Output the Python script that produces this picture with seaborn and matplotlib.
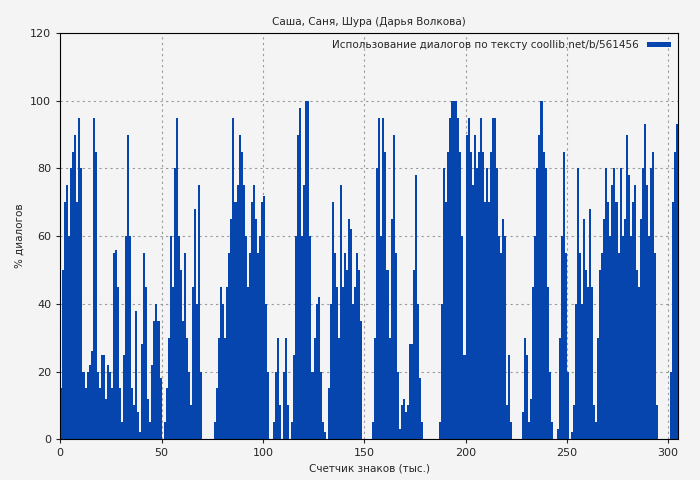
import numpy as np
import pandas as pd
import matplotlib
matplotlib.use("Agg")
import matplotlib.pyplot as plt
import seaborn as sns

values = [15,50,70,75,60,80,85,90,70,95,80,20,15,20,22,26,95,85,20,15,
          25,25,12,22,20,15,55,56,45,15,5,25,60,90,60,15,10,38,8,2,
          28,55,45,12,5,22,35,40,35,18,0,5,15,30,60,45,80,95,60,50,
          35,55,30,20,10,45,68,40,75,20,0,0,0,0,0,0,5,15,30,45,
          40,30,45,55,65,95,70,75,90,85,75,60,45,55,70,75,65,55,60,70,
          72,40,20,0,0,5,20,30,10,0,20,30,10,0,5,25,60,90,98,60,
          75,100,100,60,20,30,40,42,20,5,2,0,15,40,70,55,45,30,75,45,
          55,50,65,62,40,45,55,50,35,0,0,0,0,0,5,30,80,95,60,95,
          85,50,30,65,90,55,20,3,10,12,8,10,28,28,50,78,40,18,5,0,
          0,0,0,0,0,0,0,5,40,80,70,85,95,100,100,100,95,85,60,25,
          90,95,85,75,90,80,85,95,85,70,80,70,85,95,95,80,60,55,65,60,
          10,25,5,0,0,0,0,0,8,30,25,5,12,45,60,80,90,100,85,80,
          45,20,5,0,0,3,30,60,85,55,20,0,2,10,40,80,55,40,65,50,
          45,68,45,10,5,30,50,55,65,80,70,60,75,80,70,55,80,60,65,90,
          78,60,70,75,50,45,65,80,93,75,60,80,85,55,10,0,0,0,0,0,
          0,20,70,85,93]
positions = [p + 0.5 for p in range(len(values))]
df = pd.DataFrame({"pos": positions, "val": values})

sns.set_theme(style="ticks")
plt.rcParams['font.family'] = ['DejaVu Sans']
fig, ax = plt.subplots(figsize=(7, 4.8), dpi=100)
fig.patch.set_facecolor("#f4f4f4")
ax.set_facecolor("#f4f4f4")

sns.histplot(data=df, x="pos", weights="val", binwidth=1, binrange=(0, len(values)),
             color="#0645ad", alpha=1, linewidth=0, ax=ax,
             label="Использование диалогов по тексту coollib.net/b/561456")

ax.set_xlim(0, 305)
ax.set_ylim(0, 120)
ax.set_xticks([0, 50, 100, 150, 200, 250, 300])
ax.set_yticks([0, 20, 40, 60, 80, 100, 120])
ax.grid(True, color="#999999", linestyle=(0, (2, 3)), linewidth=0.8)
ax.set_axisbelow(True)
for s in ax.spines.values():
    s.set_color("black")
    s.set_linewidth(0.8)
ax.tick_params(labelsize=8, direction="out", length=3, width=0.8)
ax.set_xlabel("Счетчик знаков (тыс.)", fontsize=7.5)
ax.set_ylabel("% диалогов", fontsize=7.5)
ax.set_title("Саша, Саня, Шура (Дарья Волкова)", fontsize=7.5)
leg = ax.legend(loc="upper right", fontsize=7.5, frameon=False, markerfirst=False,
                handlelength=2.3, handleheight=0.4, borderaxespad=0.3)
plt.subplots_adjust(left=0.086, right=0.969, top=0.931, bottom=0.085)
fig.savefig("out.png", dpi=100, facecolor=fig.get_facecolor())
